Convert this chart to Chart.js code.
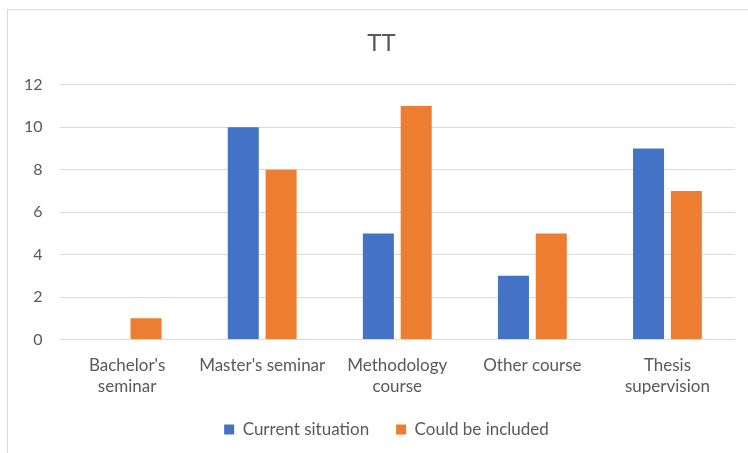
<!DOCTYPE html>
<html>
<head>
<meta charset="utf-8">
<script src="https://cdn.jsdelivr.net/npm/chart.js@4/dist/chart.umd.min.js"></script>
<style>
  html, body { margin: 0; padding: 0; background: #fff; }
  #wrap { position: relative; width: 748px; height: 453px; overflow: hidden; }
  #frame { position: absolute; left: 7px; top: 9px; width: 760px; height: 460px; border: 1px solid #d9d9d9; box-sizing: border-box; }
  #chart { position: absolute; left: 0; top: 0; }
</style>
</head>
<body>
<div id="wrap">
  <div id="frame"></div>
  <canvas id="chart" width="748" height="453"></canvas>
</div>
<script>
const categories = [
  ["Bachelor's", "seminar"],
  "Master's seminar",
  ["Methodology", "course"],
  "Other course",
  ["Thesis", "supervision"],
];
const currentSituation = [0, 10, 5, 3, 9];
const couldBeIncluded = [1, 8, 11, 5, 7];
const yTicks = [0, 2, 4, 6, 8, 10, 12];

const FONT = "Lato, 'Open Sans', sans-serif";
const GREY = "#595959";

// Excel centres title and legend on the outer frame, not the plot; nudge them right
const centreShift = {
  id: "centreShift",
  afterLayout(chart) {
    if (chart.titleBlock) chart.titleBlock.left += 21;
    if (chart.legend) chart.legend.left += 31;
  },
};

new Chart(document.getElementById("chart"), {
  type: "bar",
  data: {
    labels: categories,
    datasets: [
      {
        label: "Current situation",
        data: currentSituation,
        backgroundColor: "#4472C4",
        categoryPercentage: 0.56,
        barPercentage: 0.82,
      },
      {
        label: "Could be included",
        data: couldBeIncluded,
        backgroundColor: "#ED7D31",
        categoryPercentage: 0.56,
        barPercentage: 0.82,
      },
    ],
  },
  plugins: [centreShift],
  options: {
    responsive: false,
    animation: false,
    layout: { padding: { left: 7, right: 13, top: 29, bottom: 5 } },
    plugins: {
      title: {
        display: true,
        text: "TT",
        color: GREY,
        font: { family: FONT, size: 24, weight: "normal" },
        padding: { top: 0, bottom: 27 },
      },
      legend: {
        position: "bottom",
        labels: {
          color: GREY,
          font: { family: FONT, size: 17 },
          boxWidth: 10,
          boxHeight: 10,
          padding: 27,
        },
      },
      tooltip: { enabled: false },
    },
    scales: {
      x: {
        afterFit: (scale) => { scale.height -= 10; },
        grid: { display: false },
        border: { display: false },
        ticks: {
          color: GREY,
          font: { family: FONT, size: 17, lineHeight: 1.25 },
          maxRotation: 0,
          autoSkip: false,
          padding: 7,
        },
      },
      y: {
        min: 0,
        max: 12,
        afterBuildTicks: (axis) => { axis.ticks = yTicks.map((v) => ({ value: v })); },
        grid: { color: "#d9d9d9", lineWidth: 1, drawTicks: false },
        border: { display: false },
        ticks: {
          color: GREY,
          font: { family: FONT, size: 16 },
          padding: 17,
        },
      },
    },
  },
});
</script>
</body>
</html>
